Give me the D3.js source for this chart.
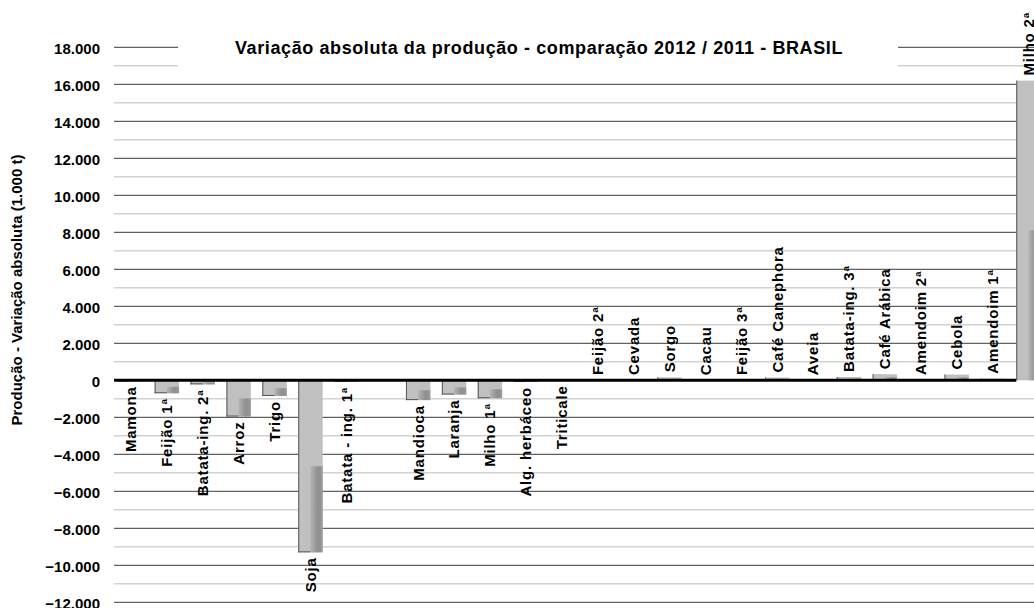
<!DOCTYPE html>
<html>
<head>
<meta charset="utf-8">
<script src="https://cdn.jsdelivr.net/npm/d3@7"></script>
<style>
  html, body { margin: 0; padding: 0; background: #fff; }
  svg { display: block; font-family: "Liberation Sans", Arial, sans-serif; }
</style>
</head>
<body>
<svg id="chart" width="1034" height="608"></svg>
<script>
// ---- data ----
const categories = ["Mamona", "Feijão 1ª", "Batata-ing. 2ª", "Arroz", "Trigo", "Soja", "Batata - ing. 1ª", "",
  "Mandioca", "Laranja", "Milho 1ª", "Alg. herbáceo", "Triticale", "Feijão 2ª", "Cevada", "Sorgo", "Cacau",
  "Feijão 3ª", "Café Canephora", "Aveia", "Batata-ing. 3ª", "Café Arábica", "Amendoim 2ª", "Cebola",
  "Amendoim 1ª", "Milho 2ª"];
const values = [-60, -700, -220, -1960, -850, -9300, -80, null,
  -1070, -770, -970, -90, -5, 10, 15, 160, 5,
  10, 150, 5, 180, 330, 15, 310,
  90, 16200];
const yTicks = [-12000, -10000, -8000, -6000, -4000, -2000, 0, 2000, 4000, 6000, 8000, 10000, 12000, 14000, 16000, 18000];
const minorTicks = [-11000, -9000, -7000, -5000, -3000, -1000, 1000, 3000, 5000, 7000, 9000, 11000, 13000, 15000, 17000];
const title = "Variação absoluta da produção - comparação 2012 / 2011 - BRASIL";
const yTitle = "Produção - Variação absoluta (1.000 t)";

// ---- layout ----
const svg = d3.select("#chart");
const plotLeft = 114, plotRight = 1034;

const y = d3.scaleLinear().domain([-12000, 18000]).range([602.3, 47.3]);
const x = d3.scaleBand().domain(d3.range(categories.length))
  .range([113, 1046.4]).paddingInner(0.32).paddingOuter(0.16);

const fmt = v => d3.format(",")(v).replace(/,/g, ".");

// gradient for the 3D-like inner part
const defs = svg.append("defs");
const grad = defs.append("linearGradient").attr("id", "barGrad")
  .attr("x1", "0%").attr("x2", "100%").attr("y1", "0%").attr("y2", "0%");
grad.append("stop").attr("offset", "0%").attr("stop-color", "#b4b4b4");
grad.append("stop").attr("offset", "60%").attr("stop-color", "#8e8e8e");
grad.append("stop").attr("offset", "100%").attr("stop-color", "#9a9a9a");

// minor gridlines
svg.append("g").selectAll("line").data(minorTicks).join("line")
  .attr("x1", plotLeft).attr("x2", plotRight)
  .attr("y1", d => y(d)).attr("y2", d => y(d))
  .attr("stroke", "#d2d2d2").attr("stroke-width", 1.5);

// major gridlines
svg.append("g").selectAll("line").data(yTicks.filter(d => d !== 0)).join("line")
  .attr("x1", plotLeft).attr("x2", plotRight)
  .attr("y1", d => y(d)).attr("y2", d => y(d))
  .attr("stroke", "#3a3a3a").attr("stroke-width", 1);

// title box + title
svg.append("rect").attr("x", 178).attr("y", 30).attr("width", 720).attr("height", 46).attr("fill", "#fff");
svg.append("text").attr("x", 539).attr("y", 54).attr("text-anchor", "middle")
  .attr("font-size", 18).attr("letter-spacing", 0.6).attr("font-weight", "bold").attr("fill", "#000").text(title);

// bars
const bw = x.bandwidth();
const bars = svg.append("g").selectAll("g").data(values.map((v, i) => ({ v, i })).filter(d => d.v !== null)).join("g");
bars.append("rect")
  .attr("x", d => x(d.i)).attr("width", bw)
  .attr("y", d => y(Math.max(0, d.v)))
  .attr("height", d => Math.abs(y(d.v) - y(0)))
  .attr("fill", "#c0c0c0");
bars.append("rect")
  .attr("x", d => x(d.i) + bw / 2).attr("width", bw / 2)
  .attr("y", d => y(Math.max(0, d.v)) + Math.abs(y(d.v) - y(0)) / 2)
  .attr("height", d => Math.abs(y(d.v) - y(0)) / 2)
  .attr("fill", "url(#barGrad)");
bars.append("line")
  .attr("x1", d => x(d.i) + 0.5).attr("x2", d => x(d.i) + 0.5)
  .attr("y1", d => y(Math.max(0, d.v))).attr("y2", d => y(Math.min(0, d.v)))
  .attr("stroke", "#555").attr("stroke-width", 1);
bars.filter(d => d.v < 0).append("line")
  .attr("x1", d => x(d.i)).attr("x2", d => x(d.i) + bw / 2)
  .attr("y1", d => y(d.v) - 0.5).attr("y2", d => y(d.v) - 0.5)
  .attr("stroke", "#555").attr("stroke-width", 1);

// zero line
svg.append("line").attr("x1", plotLeft).attr("x2", x(categories.length - 1))
  .attr("y1", y(0)).attr("y2", y(0)).attr("stroke", "#000").attr("stroke-width", 3);

// category labels
svg.append("g").selectAll("text").data(categories.map((c, i) => ({ c, i, v: values[i] })).filter(d => d.c !== "")).join("text")
  .attr("transform", d => {
    const cx = x(d.i) + bw / 2;
    const cy = d.v < 0 ? y(d.v) + 5 : y(Math.max(0, d.v)) - 5;
    return `translate(${cx},${cy}) rotate(-90)`;
  })
  .attr("text-anchor", d => d.v < 0 ? "end" : "start")
  .attr("dy", "0.36em")
  .attr("font-size", 15).attr("letter-spacing", 0.8).attr("font-weight", "bold").attr("fill", "#000")
  .text(d => d.c);

// y tick labels
svg.append("g").selectAll("text").data(yTicks).join("text")
  .attr("x", 100).attr("y", d => y(d) + 1.5).attr("dy", "0.36em")
  .attr("text-anchor", "end").attr("font-size", 15).attr("font-weight", "bold").attr("fill", "#000")
  .text(d => fmt(d));

// y axis title
svg.append("text").attr("transform", "translate(17,290) rotate(-90)")
  .attr("text-anchor", "middle").attr("dy", "0.36em")
  .attr("font-size", 15).attr("font-weight", "bold").attr("fill", "#000").text(yTitle);
</script>
</body>
</html>
